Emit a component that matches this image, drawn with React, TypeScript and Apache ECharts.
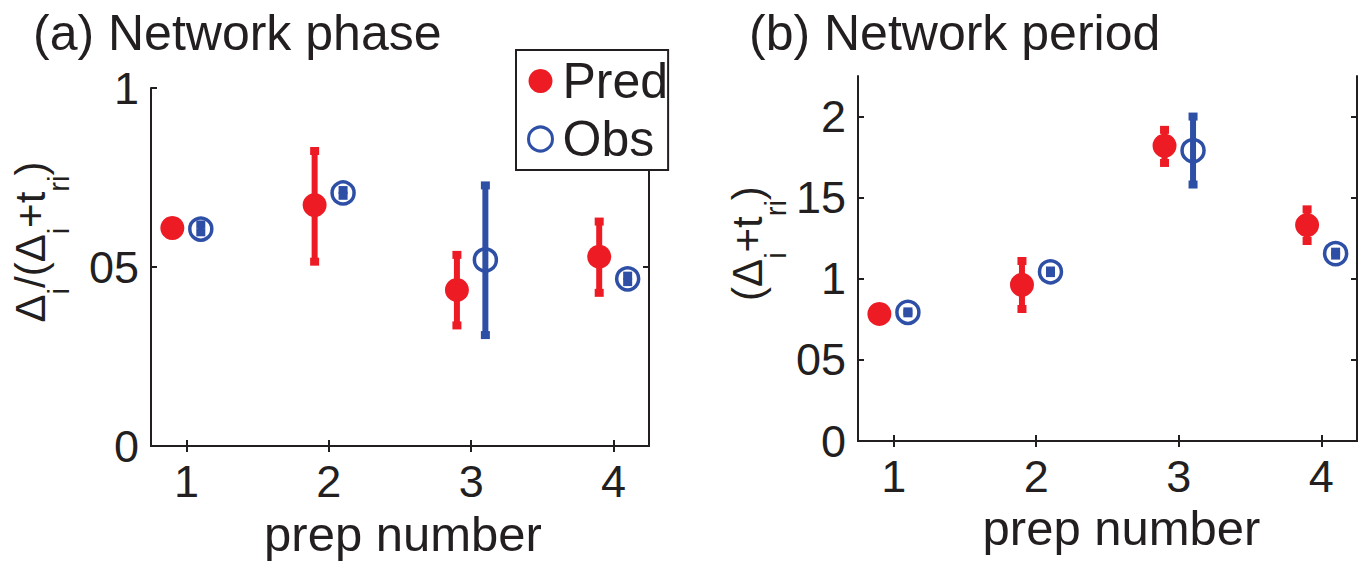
import React, { useEffect, useRef } from "react";
import * as echarts from "echarts";

// ---- data ----
const prepNumbers = [1, 2, 3, 4];
const xTickLabels = ["1", "2", "3", "4"];

// panel (a) network phase
const phaseTickValues = [0, 0.5, 1];
const phaseTickLabels = ["0", "05", "1"];
const phasePred = [0.609, 0.673, 0.436, 0.529];
const phasePredLow = [0.6, 0.515, 0.337, 0.428];
const phasePredHigh = [0.618, 0.824, 0.534, 0.627];
const phaseObs = [0.606, 0.707, 0.52, 0.467];
const phaseObsLow = [0.597, 0.699, 0.31, 0.458];
const phaseObsHigh = [0.619, 0.715, 0.728, 0.476];

// panel (b) network period
const periodTickValues = [0, 0.5, 1, 1.5, 2];
const periodTickLabels = ["0", "05", "1", "15", "2"];
const periodPred = [0.783, 0.963, 1.82, 1.331];
const periodPredLow = [0.775, 0.814, 1.714, 1.233];
const periodPredHigh = [0.791, 1.11, 1.918, 1.428];
const periodObs = [0.793, 1.043, 1.79, 1.155];
const periodObsLow = [0.787, 1.035, 1.581, 1.143];
const periodObsHigh = [0.799, 1.051, 2.0, 1.167];

const PRED_SHIFT = -0.1;
const OBS_SHIFT = 0.1;

const RED = "#ED1C24";
const BLUE = "#2E4FA6";
const INK = "#231F20";
const FONT = "Liberation Sans";

function pts(vals: number[], shift: number) {
  return prepNumbers.map((p, i) => [p + shift, vals[i]]);
}
function bars(low: number[], high: number[], shift: number) {
  return prepNumbers.map((p, i) => [p + shift, low[i], high[i]]);
}

function errSeries(name: string, data: number[][], color: string, gi: number, barW: number) {
  return {
    type: "custom",
    name,
    xAxisIndex: gi * 2,
    yAxisIndex: gi * 2,
    z: 2,
    encode: { x: 0, y: [1, 2] },
    data,
    renderItem: (params: any, api: any) => {
      const x = api.value(0);
      const lo = api.coord([x, api.value(1)]);
      const hi = api.coord([x, api.value(2)]);
      const cw = 9;
      const ch = 8;
      return {
        type: "group",
        children: [
          { type: "rect", shape: { x: lo[0] - barW / 2, y: hi[1], width: barW, height: lo[1] - hi[1] }, style: { fill: color } },
          { type: "rect", shape: { x: hi[0] - cw / 2, y: hi[1] - ch / 2, width: cw, height: ch }, style: { fill: color } },
          { type: "rect", shape: { x: lo[0] - cw / 2, y: lo[1] - ch / 2, width: cw, height: ch }, style: { fill: color } },
        ],
      };
    },
  };
}

function predSeries(data: number[][], gi: number) {
  return {
    type: "scatter",
    name: "Pred",
    xAxisIndex: gi * 2,
    yAxisIndex: gi * 2,
    z: 3,
    symbol: "circle",
    symbolSize: 24,
    itemStyle: { color: RED, opacity: 1 },
    data,
  };
}
function obsSeries(data: number[][], gi: number) {
  return {
    type: "scatter",
    name: "Obs",
    xAxisIndex: gi * 2,
    yAxisIndex: gi * 2,
    z: 3,
    symbol: "circle",
    symbolSize: 22,
    itemStyle: { color: "rgba(0,0,0,0)", borderColor: BLUE, borderWidth: 3.5, opacity: 1 },
    data,
  };
}

const axisLineStyle = { color: INK, width: 2 };

function xAxes(gi: number) {
  return [
    {
      type: "value",
      gridIndex: gi,
      position: "bottom",
      min: 0.75,
      max: 4.25,
      axisLine: { show: true, lineStyle: axisLineStyle },
      axisTick: { show: true, inside: true, length: 6, lineStyle: { color: INK, width: 2 }, customValues: prepNumbers },
      axisLabel: {
        show: true,
        customValues: prepNumbers,
        formatter: (v: number) => xTickLabels[prepNumbers.indexOf(Math.round(v))] ?? "",
        fontSize: 45,
        fontFamily: FONT,
        color: INK,
        margin: 13,
      },
      splitLine: { show: false },
      name: "prep number",
      nameLocation: "middle",
      nameGap: gi === 0 ? 50 : 62,
      nameTextStyle: {
        fontSize: 49,
        fontFamily: FONT,
        color: INK,
        padding: gi === 0 ? [0, 0, 0, 6] : [0, 0, 0, 28],
      },
    },
    {
      type: "value",
      gridIndex: gi,
      position: "top",
      min: 0.75,
      max: 4.25,
      axisLine: { show: true, lineStyle: axisLineStyle },
      axisTick: { show: true, inside: true, length: 6, lineStyle: { color: INK, width: 2 }, customValues: prepNumbers },
      axisLabel: { show: false },
      splitLine: { show: false },
    },
  ];
}

function yAxes(
  gi: number,
  max: number,
  ticks: number[],
  labels: string[],
  nameRich: string,
  gap: number,
  shiftUp: number
) {
  return [
    {
      type: "value",
      gridIndex: gi,
      position: "left",
      min: 0,
      max,
      axisLine: { show: true, lineStyle: axisLineStyle },
      axisTick: { show: true, inside: true, length: 6, lineStyle: { color: INK, width: 2 }, customValues: ticks },
      axisLabel: {
        show: true,
        customValues: ticks,
        formatter: (v: number) => {
          const i = ticks.findIndex((t) => Math.abs(t - v) < 1e-6);
          return i >= 0 ? labels[i] : "";
        },
        fontSize: 45,
        fontFamily: FONT,
        color: INK,
        margin: 12,
      },
      splitLine: { show: false },
      name: nameRich,
      nameLocation: "middle",
      nameRotate: 90,
      nameGap: gap,
      nameTextStyle: {
        fontFamily: FONT,
        color: INK,
        fontSize: 42,
        padding: [0, 0, 0, shiftUp * 2],
        rich: {
          m: { fontSize: 42, fontFamily: FONT, color: INK, lineHeight: 48 },
          s: { fontSize: 29, fontFamily: FONT, color: INK, padding: [56, 0, 0, 0] },
        },
      },
    },
    {
      type: "value",
      gridIndex: gi,
      position: "right",
      min: 0,
      max,
      axisLine: { show: true, lineStyle: axisLineStyle },
      axisTick: { show: true, inside: true, length: 6, lineStyle: { color: INK, width: 2 }, customValues: ticks },
      axisLabel: { show: false },
      splitLine: { show: false },
    },
  ];
}

export default function App() {
  const ref = useRef<HTMLDivElement>(null);
  useEffect(() => {
    if (!ref.current) return;
    const chart = echarts.init(ref.current, undefined, { renderer: "svg" });
    chart.setOption({
      animation: false,
      backgroundColor: "#ffffff",
      textStyle: { fontFamily: FONT },
      title: [
        { text: "(a) Network phase", left: 28, top: 3, textStyle: { fontSize: 50, fontWeight: "normal", color: INK, fontFamily: FONT } },
        { text: "(b) Network period", left: 744, top: 3, textStyle: { fontSize: 50, fontWeight: "normal", color: INK, fontFamily: FONT } },
      ],
      legend: {
        orient: "vertical",
        left: 516,
        top: 50,
        padding: [4, 0, 4, 11],
        itemGap: 4,
        itemWidth: 24,
        itemHeight: 24,
        backgroundColor: "#ffffff",
        borderColor: INK,
        borderWidth: 2,
        borderRadius: 0,
        textStyle: { fontSize: 50, fontFamily: FONT, color: INK, lineHeight: 54, padding: [0, 0, 0, 5] },
        data: [
          { name: "Pred", icon: "circle", itemStyle: { color: RED } },
          { name: "Obs", icon: "circle", itemStyle: { color: "rgba(0,0,0,0)", borderColor: BLUE, borderWidth: 3 } },
        ],
      },
      grid: [
        { left: 151, top: 88, width: 498, height: 365 },
        { left: 858, top: 76, width: 499, height: 365 },
      ],
      xAxis: [...xAxes(0), ...xAxes(1)],
      yAxis: [
        ...yAxes(0, 1, phaseTickValues, phaseTickLabels, "{m|Δ}{s|i}{m|/(Δ}{s|i}{m|+t}{s|ri}{m|)}", 78, 25),
        ...yAxes(1, 2.25, periodTickValues, periodTickLabels, "{m|(Δ}{s|i}{m|+t}{s|ri}{m|)}", 68, 15),
      ],
      series: [
        errSeries("Pred error (a)", bars(phasePredLow, phasePredHigh, PRED_SHIFT), RED, 0, 6),
        errSeries("Obs error (a)", bars(phaseObsLow, phaseObsHigh, OBS_SHIFT), BLUE, 0, 6),
        predSeries(pts(phasePred, PRED_SHIFT), 0),
        obsSeries(pts(phaseObs, OBS_SHIFT), 0),
        errSeries("Pred error (b)", bars(periodPredLow, periodPredHigh, PRED_SHIFT), RED, 1, 6),
        errSeries("Obs error (b)", bars(periodObsLow, periodObsHigh, OBS_SHIFT), BLUE, 1, 6),
        predSeries(pts(periodPred, PRED_SHIFT), 1),
        obsSeries(pts(periodObs, OBS_SHIFT), 1),
      ],
    });
    return () => chart.dispose();
  }, []);
  return <div ref={ref} style={{ position: "absolute", left: 0, top: 0, width: 1368, height: 563 }} />;
}
